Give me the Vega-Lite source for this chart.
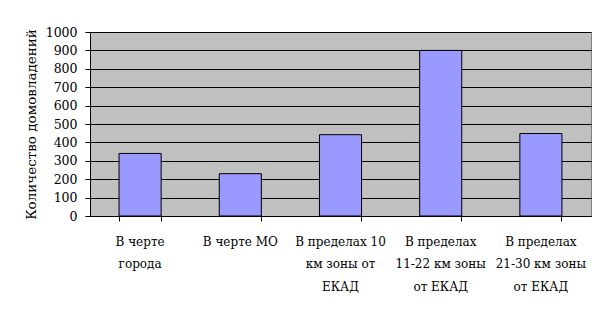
{
  "$schema": "https://vega.github.io/schema/vega-lite/v6.json",
  "width": 501,
  "height": 184,
  "autosize": {"type": "none"},
  "padding": {"left": 90, "top": 32, "right": 16, "bottom": 107},
  "background": "white",
  "data": {
    "values": [
      {"category": "В черте|города", "count": 340},
      {"category": "В черте МО", "count": 230},
      {"category": "В пределах 10|км зоны от|ЕКАД", "count": 442},
      {"category": "В пределах|11-22 км зоны|от ЕКАД", "count": 900},
      {"category": "В пределах|21-30 км зоны|от ЕКАД", "count": 448}
    ]
  },
  "mark": {"type": "bar", "fill": "#9999FF", "stroke": "black", "strokeWidth": 1},
  "encoding": {
    "x": {
      "field": "category",
      "type": "nominal",
      "sort": null,
      "scale": {"paddingInner": 0.58, "paddingOuter": 0.29},
      "axis": {
        "title": null,
        "labelAngle": 0,
        "labelExpr": "split(datum.label, '|')",
        "labelFont": "DejaVu Serif",
        "labelFontSize": 12,
        "labelColor": "black",
        "labelLineHeight": 22.5,
        "labelPadding": 15,
        "labelBaseline": "top",
        "bandPosition": 1,
        "tickExtra": true,
        "tickColor": "black",
        "tickSize": 5,
        "domainColor": "black",
        "grid": false
      }
    },
    "y": {
      "field": "count",
      "type": "quantitative",
      "scale": {"domain": [0, 1000], "nice": false},
      "axis": {
        "title": "Количество домовладений",
        "titleFont": "DejaVu Serif",
        "titleFontSize": 13.5,
        "titleFontWeight": "normal",
        "titleColor": "black",
        "titlePadding": 7,
        "values": [0, 100, 200, 300, 400, 500, 600, 700, 800, 900, 1000],
        "format": "d",
        "labelFont": "DejaVu Serif",
        "labelFontSize": 12.5,
        "labelColor": "black",
        "labelPadding": 8,
        "tickColor": "black",
        "tickSize": 5,
        "domainColor": "black",
        "grid": true,
        "gridColor": "black",
        "gridOpacity": 1,
        "gridWidth": 1
      }
    }
  },
  "config": {
    "view": {"fill": "#C0C0C0", "stroke": "#808080", "strokeWidth": 1}
  }
}
